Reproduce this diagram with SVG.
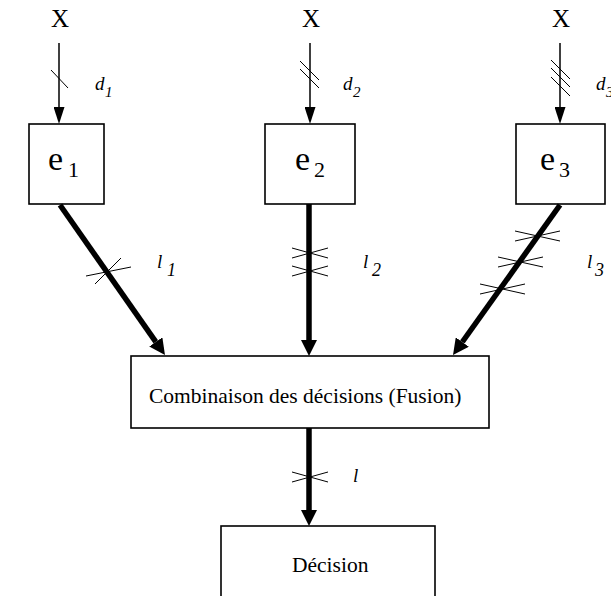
<svg xmlns="http://www.w3.org/2000/svg" width="611" height="596" viewBox="0 0 611 596">
<style>
.box{fill:#fff;stroke:#000;stroke-width:1.6}
.t{font-family:"Liberation Serif","Times New Roman",serif;fill:#000}
.it{font-family:"Liberation Serif","Times New Roman",serif;font-style:italic;fill:#000}
.thin{stroke:#000;stroke-width:1.5;fill:none}
.thick{stroke:#000;stroke-width:5.5;fill:none}
.tick{stroke:#000;stroke-width:1;fill:none}
</style>
<defs>
<marker id="ah" markerUnits="userSpaceOnUse" markerWidth="17" markerHeight="11" viewBox="0 0 17 11" refX="0" refY="5.5" orient="auto"><path d="M0,0 L17,5.5 L0,11 z" fill="#000"/></marker>
<marker id="ahb" markerUnits="userSpaceOnUse" markerWidth="16" markerHeight="16" viewBox="0 0 16 16" refX="0" refY="8" orient="auto"><path d="M0,0 L16,8 L0,16 z" fill="#000"/></marker>
</defs>
<g id="inputs">
<text class="t" x="60" y="27" font-size="25" text-anchor="middle">X</text>
<text class="t" x="311" y="27" font-size="25" text-anchor="middle">X</text>
<text class="t" x="561" y="27" font-size="25" text-anchor="middle">X</text>
</g>
<g id="e1">
<rect class="box" x="29" y="124" width="75" height="80"/>
<text class="t" x="48" y="170" font-size="34">e<tspan x="68" y="177" font-size="22">1</tspan></text>
</g>
<g id="e2">
<rect class="box" x="265" y="124" width="90" height="80"/>
<text class="t" x="295" y="170" font-size="34">e<tspan x="314" y="177" font-size="22">2</tspan></text>
</g>
<g id="e3">
<rect class="box" x="516" y="124" width="89" height="80"/>
<text class="t" x="540" y="170" font-size="34">e<tspan x="559" y="177" font-size="22">3</tspan></text>
</g>
<g id="fusion">
<rect class="box" x="131" y="356" width="358" height="72"/>
<text class="t" x="149" y="403" font-size="21.5">Combinaison des décisions (Fusion)</text>
</g>
<g id="decision">
<rect class="box" x="221" y="526" width="214" height="80"/>
<text class="t" x="292" y="572" font-size="21.5">Décision</text>
</g>
<g id="connectors">
<line class="thin" x1="59" y1="43" x2="59" y2="107" marker-end="url(#ah)"/>
<line class="thin" x1="310" y1="43" x2="310" y2="107" marker-end="url(#ah)"/>
<line class="thin" x1="560" y1="43" x2="560" y2="107" marker-end="url(#ah)"/>
<line class="thick" x1="60" y1="205" x2="155.8" y2="341.9" marker-end="url(#ahb)"/>
<line class="thick" x1="309" y1="204" x2="309" y2="340" marker-end="url(#ahb)"/>
<line class="thick" x1="560" y1="205" x2="462.3" y2="342" marker-end="url(#ahb)"/>
<line class="thick" x1="309" y1="428" x2="309" y2="510" marker-end="url(#ahb)"/>
<g id="ticks">
<line class="tick" x1="51" y1="70" x2="68" y2="88"/>
<line class="tick" x1="300" y1="61" x2="319" y2="80"/>
<line class="tick" x1="300" y1="69" x2="319" y2="88"/>
<line class="tick" x1="551" y1="60" x2="570" y2="79"/>
<line class="tick" x1="551" y1="68" x2="570" y2="87"/>
<line class="tick" x1="551" y1="77" x2="570" y2="96"/>
<line class="tick" x1="86" y1="276" x2="131" y2="267"/>
<line class="tick" x1="95" y1="284" x2="121" y2="258"/>
<line class="tick" x1="292" y1="248" x2="328" y2="258"/>
<line class="tick" x1="292" y1="258" x2="328" y2="248"/>
<line class="tick" x1="292" y1="266" x2="328" y2="276"/>
<line class="tick" x1="292" y1="276" x2="328" y2="266"/>
<line class="tick" x1="515" y1="231" x2="560" y2="241"/>
<line class="tick" x1="515" y1="241" x2="560" y2="231"/>
<line class="tick" x1="498" y1="257" x2="543" y2="267"/>
<line class="tick" x1="498" y1="267" x2="543" y2="257"/>
<line class="tick" x1="480" y1="284" x2="525" y2="294"/>
<line class="tick" x1="480" y1="294" x2="525" y2="284"/>
<line class="tick" x1="292" y1="472" x2="328" y2="482"/>
<line class="tick" x1="292" y1="482" x2="328" y2="472"/>
</g>
</g>
<g id="labels">
<text class="it" x="95" y="90" font-size="19">d<tspan x="105" y="97" font-size="15">1</tspan></text>
<text class="it" x="343" y="90" font-size="19">d<tspan x="353" y="97" font-size="15">2</tspan></text>
<text class="it" x="596" y="90" font-size="19">d<tspan x="606" y="97" font-size="15">3</tspan></text>
<text class="it" x="157" y="268" font-size="19">l<tspan x="167" y="276" font-size="18">1</tspan></text>
<text class="it" x="363" y="268" font-size="19">l<tspan x="372" y="276" font-size="18">2</tspan></text>
<text class="it" x="587" y="268" font-size="19">l<tspan x="595" y="276" font-size="18">3</tspan></text>
<text class="it" x="353" y="482" font-size="19">l</text>
</g>
</svg>
